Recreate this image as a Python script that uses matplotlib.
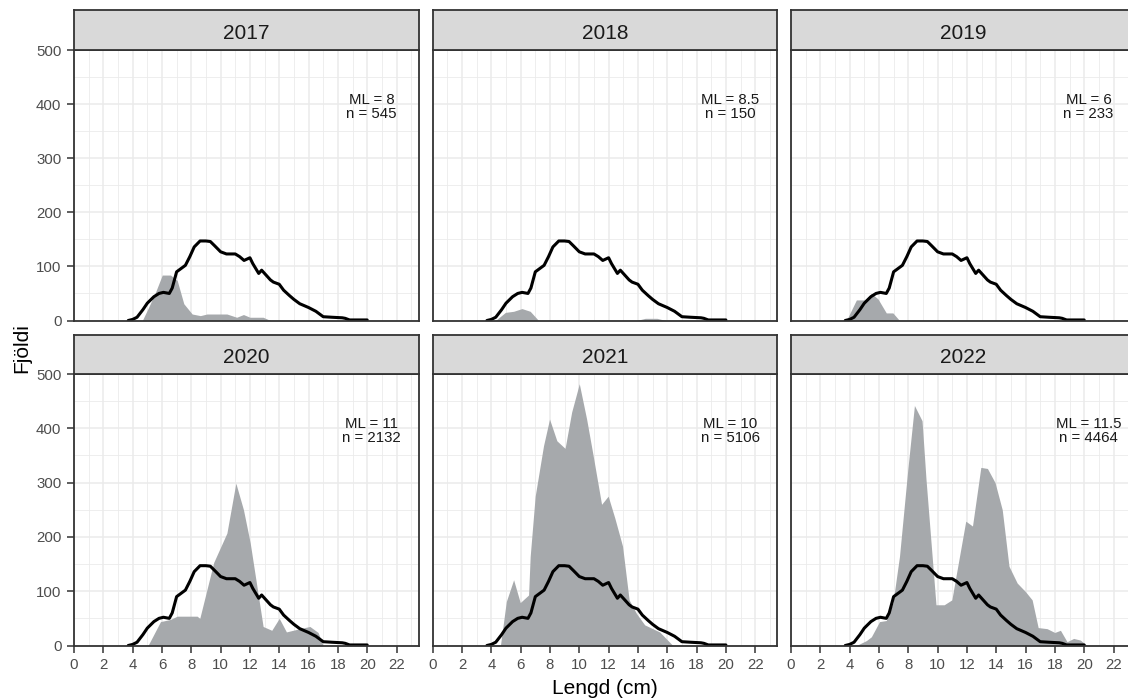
import matplotlib
matplotlib.use("Agg")
import matplotlib.pyplot as plt
import numpy as np

plt.rcParams['font.family'] = ['Liberation Sans', 'DejaVu Sans']

# ---------------- data ----------------
years = ["2017", "2018", "2019", "2020", "2021", "2022"]
ml_values = ["8", "8.5", "6", "11", "10", "11.5"]
n_values = ["545", "150", "233", "2132", "5106", "4464"]

# reference (black line, same in every panel)
ref_len = [3.7, 4.0, 4.3, 4.7, 5.0, 5.45, 5.8, 6.1, 6.5, 6.7, 7.0, 7.3, 7.6, 7.9, 8.2,
           8.6, 9.0, 9.3, 9.6, 10.0, 10.4, 11.0, 11.3, 11.6, 12.0, 12.2, 12.6, 12.8,
           13.1, 13.4, 13.6, 14.0, 14.3, 14.7, 15.0, 15.4, 16.0, 16.5, 17.0, 17.6,
           18.3, 18.5, 18.8, 19.2, 20.0]
ref_val = [0, 2, 6, 20, 32, 44, 50, 52, 50, 60, 90, 96, 102, 118, 136,
           147, 147, 146, 138, 127, 123, 123, 118, 111, 116, 105, 87, 93,
           84, 75, 71, 67, 56, 46, 39, 31, 24, 17, 7, 6,
           5, 4, 1, 1, 1]

len_2017 = [4.66, 5.1, 5.57, 6.02, 6.58, 7.04, 7.49, 8.06, 8.62, 9.07, 10.43, 11.1,
            11.56, 12.0, 12.9, 13.4]
val_2017 = [0, 25, 53, 84, 84, 74, 31, 12, 9, 12, 12, 6, 11, 6, 6, 0]

len_2018 = [4.28, 4.96, 5.52, 6.09, 6.65, 7.22, 13.9, 14.5, 15.3, 15.9]
val_2018 = [0, 15, 17, 22, 17, 0, 0, 4, 4, 0]

len_2019 = [3.78, 4.46, 5.02, 5.48, 5.93, 6.5, 6.95, 7.4]
val_2019 = [0, 38, 38, 50, 40, 14, 14, 0]

len_2020 = [5.05, 5.9, 6.58, 7.04, 8.4, 8.58, 9.53, 10.43, 11.04, 11.56, 12.02,
            12.9, 13.49, 14.0, 14.49, 15.4, 16.09, 16.65, 17.0]
val_2020 = [0, 44, 48, 54, 54, 50, 153, 207, 299, 250, 189, 35, 28, 50, 25, 31,
            35, 24, 0]

len_2021 = [4.62, 5.02, 5.52, 5.97, 6.54, 6.65, 6.99, 7.56, 7.97, 8.47, 9.03, 9.48,
            10.0, 10.5, 10.95, 11.52, 11.97, 12.42, 12.95, 13.4, 13.9, 14.46, 15.48,
            16.38]
val_2021 = [0, 81, 121, 79, 93, 164, 275, 368, 417, 377, 363, 430, 482, 417, 349,
            260, 275, 235, 183, 84, 59, 38, 25, 0]

len_2022 = [4.46, 5.14, 5.48, 6.04, 6.5, 6.95, 7.4, 7.97, 8.42, 8.94, 9.21, 9.89,
            10.45, 10.97, 11.25, 11.92, 12.38, 12.95, 13.4, 13.92, 14.41, 14.87,
            15.43, 16.0, 16.45, 16.86, 17.47, 17.99, 18.38, 18.83, 19.28, 19.74, 20.18]
val_2022 = [0, 9, 16, 44, 46, 78, 164, 325, 442, 414, 306, 75, 75, 84, 127, 229,
            220, 328, 326, 300, 250, 146, 115, 99, 84, 33, 31, 24, 28, 7, 13, 10, 0]

series_len = [len_2017, len_2018, len_2019, len_2020, len_2021, len_2022]
series_val = [val_2017, val_2018, val_2019, val_2020, val_2021, val_2022]

x_ticks = [0, 2, 4, 6, 8, 10, 12, 14, 16, 18, 20, 22]
y_ticks = [0, 100, 200, 300, 400, 500]

# ---------------- layout ----------------
W, H = 1128, 700
fig = plt.figure(figsize=(W / 100, H / 100), dpi=100)

col_left = [74, 432.7, 791]
panel_w = 344.5
rows = [(9.5, 50, 320.5), (334.5, 374, 645.5)]  # strip top, panel top, panel bottom

fill_col = '#A6A9AC'
border_col = '#333333'
grid_col = '#EBEBEB'
tick_text_col = '#4D4D4D'

for i, yr in enumerate(years):
    r, c = divmod(i, 3)
    s_top, p_top, p_bot = rows[r]
    x0 = col_left[c]
    ax = fig.add_axes([x0 / W, 1 - p_bot / H, panel_w / W, (p_bot - p_top) / H])
    ax.set_xlim(0, 23.5)
    ax.set_ylim(0, 500)
    ax.set_xticks(x_ticks)
    ax.set_xticks(np.arange(1, 24, 2), minor=True)
    ax.set_yticks(y_ticks)
    ax.set_yticks([50, 150, 250, 350, 450], minor=True)
    ax.grid(True, which='major', color=grid_col, lw=1.1, zorder=0)
    ax.grid(True, which='minor', color=grid_col, lw=0.6, zorder=0)
    ax.set_axisbelow(True)

    ax.fill_between(series_len[i], series_val[i], 0, color=fill_col, lw=0, zorder=2)
    ax.plot(ref_len, ref_val, color='black', lw=2.2, zorder=3,
            solid_joinstyle='round', solid_capstyle='round')

    ax.text(20.3, 395, f"ML = {ml_values[i]}\nn = {n_values[i]}", ha='center',
            va='center', fontsize=10.8, color='#1A1A1A', linespacing=1.05, zorder=4)

    for sp in ax.spines.values():
        sp.set_color(border_col)
        sp.set_linewidth(1.3)
        sp.set_zorder(5)

    ax.tick_params(which='minor', length=0)
    ax.tick_params(which='major', length=5, width=1.1, color=border_col,
                   labelsize=10.8, labelcolor=tick_text_col, pad=4)
    if r == 0:
        ax.tick_params(axis='x', which='major', length=0, labelbottom=False)
    if c != 0:
        ax.tick_params(axis='y', which='major', length=0, labelleft=False)

    # strip
    sax = fig.add_axes([x0 / W, 1 - p_top / H, panel_w / W, (p_top - s_top) / H])
    sax.set_facecolor('#D9D9D9')
    sax.set_xticks([])
    sax.set_yticks([])
    for sp in sax.spines.values():
        sp.set_color(border_col)
        sp.set_linewidth(1.3)
    sax.text(0.5, 0.27, yr, ha='center', va='baseline', fontsize=15,
             color='#1A1A1A', transform=sax.transAxes)

fig.text(605 / W, 1 - 688 / H, "Lengd (cm)", ha='center', va='center', fontsize=15)
fig.text(22 / W, 1 - 348 / H, "Fjöldi", ha='center', va='center', fontsize=15,
         rotation=90)

fig.savefig("out.png", dpi=100)
